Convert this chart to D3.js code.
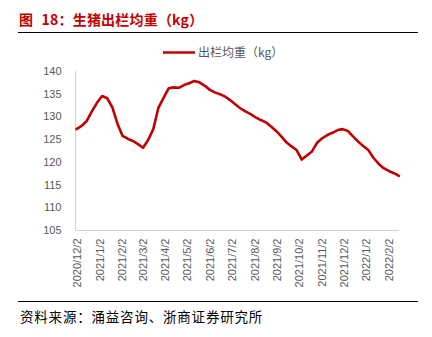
<!DOCTYPE html>
<html><head><meta charset="utf-8">
<script src="https://cdn.jsdelivr.net/npm/d3@7"></script>
<style>
html,body{margin:0;padding:0;background:#fff;}
svg{display:block;}
</style></head>
<body>
<script>
// ---- data ----
const startDate = "2020-12-02";
const weights = [127.2,127.9,129.0,131.1,133.0,134.5,134.0,132.0,128.4,125.7,
125.1,124.6,123.9,123.1,124.8,127.2,131.9,134.1,136.2,136.4,
136.3,136.9,137.3,137.8,137.5,136.8,135.9,135.3,134.9,134.4,
133.6,132.7,131.8,131.1,130.5,129.8,129.2,128.7,127.8,126.8,
125.6,124.3,123.4,122.6,120.5,121.4,122.3,124.2,125.2,125.9,
126.4,127.0,127.2,126.8,125.6,124.5,123.5,122.6,120.9,119.6,
118.6,118.0,117.5,116.9];
const tickLabels = ["2020/12/2","2021/1/2","2021/2/2","2021/3/2","2021/4/2","2021/5/2","2021/6/2","2021/7/2","2021/8/2","2021/9/2","2021/10/2","2021/11/2","2021/12/2","2022/1/2","2022/2/2"];
const yTicks = [105,110,115,120,125,130,135,140];
const title = "图 18：生猪出栏均重（kg）";
const seriesName = "出栏均重（kg）";
const source = "资料来源：涌益咨询、浙商证券研究所";

// ---- build ----
const W = 432, H = 337;
const parse = d3.timeParse("%Y-%m-%d");
const parseTick = d3.timeParse("%Y/%m/%d");
const t0 = parse(startDate);
const data = weights.map((v,i)=>({date:d3.timeDay.offset(t0, i*7), v}));

const svg = d3.select("body").append("svg").attr("width",W).attr("height",H);
const font = "'Liberation Sans','Noto Sans CJK SC',sans-serif";
const cjk = "'Noto Sans CJK SC',sans-serif";

const x = d3.scaleTime().domain([data[0].date, data[data.length-1].date]).range([76.5, 399]);
const y = d3.scaleLinear().domain([105,140]).range([230,71]);

// title
svg.append("text").attr("x",19).attr("y",24.5).text(title)
  .attr("font-family",cjk).attr("font-weight","bold").attr("font-size",14)
  .attr("word-spacing",5).attr("letter-spacing",0.2).attr("fill","#C00000");
svg.append("line").attr("x1",18).attr("x2",418).attr("y1",32.5).attr("y2",32.5)
  .attr("stroke","#000").attr("stroke-width",1);

// legend
svg.append("line").attr("x1",163).attr("x2",195).attr("y1",52.5).attr("y2",52.5)
  .attr("stroke","#C00000").attr("stroke-width",2.5);
svg.append("text").attr("x",198).attr("y",57).text(seriesName)
  .attr("font-family",cjk).attr("font-size",12).attr("fill","#595959");

// y axis
const yAxis = svg.append("g").attr("transform","translate(75.5,0)")
  .call(d3.axisLeft(y).tickValues(yTicks).tickSize(0).tickPadding(14));
yAxis.select(".domain").attr("stroke","#d0d0d0").attr("d","M0,71V230");
yAxis.selectAll("text").attr("font-family",font).attr("font-size",11).attr("fill","#595959");

// x axis
const xAxis = svg.append("g").attr("transform","translate(0,230.5)")
  .call(d3.axisBottom(x).tickValues(tickLabels.map(s=>parseTick(s))).tickSize(0).tickFormat((d,i)=>tickLabels[i]));
xAxis.select(".domain").attr("stroke","#d0d0d0").attr("d","M75.5,0H399");
xAxis.selectAll("text")
  .attr("font-family",font).attr("font-size",11).attr("fill","#595959")
  .attr("transform","rotate(-90)").attr("text-anchor","end")
  .attr("x",-8).attr("y",0).attr("dy","0.35em");

// line
svg.append("path").datum(data)
  .attr("d", d3.line().x(d=>x(d.date)).y(d=>y(d.v)))
  .attr("fill","none").attr("stroke","#C00000").attr("stroke-width",2.6)
  .attr("stroke-linejoin","round").attr("stroke-linecap","round");

// source
svg.append("line").attr("x1",18).attr("x2",418).attr("y1",301.5).attr("y2",301.5)
  .attr("stroke","#000").attr("stroke-width",1);
svg.append("text").attr("x",20).attr("y",322).text(source)
  .attr("font-family",cjk).attr("font-size",13.5).attr("letter-spacing",0.8).attr("fill","#000");
</script>
</body></html>
